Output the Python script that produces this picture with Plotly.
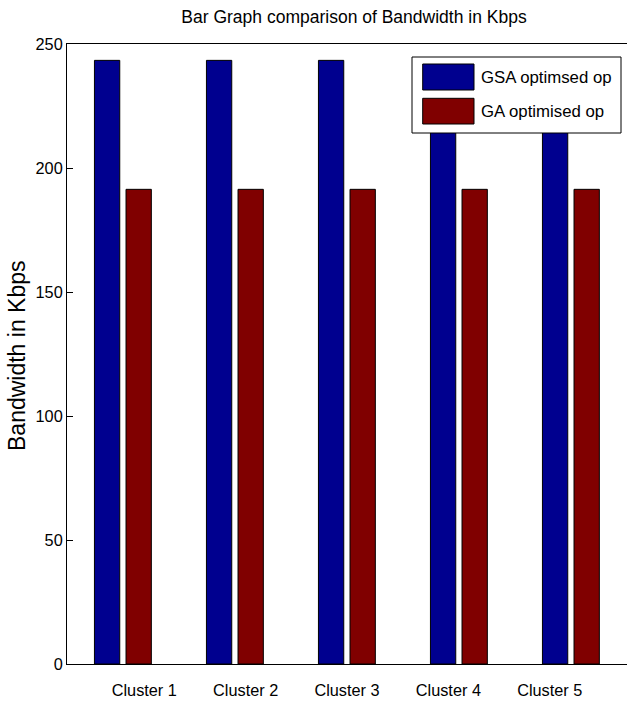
import plotly.graph_objects as go

categories = ["Cluster 1", "Cluster 2", "Cluster 3", "Cluster 4", "Cluster 5"]
gsa_values = [243.4, 243.4, 243.4, 243.4, 243.4]
ga_values = [191.4, 191.4, 191.4, 191.4, 191.4]
series_names = ["GSA optimsed op", "GA optimised op"]
y_ticks = [0, 50, 100, 150, 200, 250]

BLUE = "#00008F"
RED = "#800000"
FONT = "Liberation Sans, Arial, sans-serif"

xpos = list(range(len(categories)))

fig = go.Figure()
fig.add_trace(go.Bar(x=xpos, y=gsa_values, name=series_names[0],
                     marker=dict(color=BLUE, line=dict(color="black", width=1)),
                     width=0.226, offset=-0.255, showlegend=False))
fig.add_trace(go.Bar(x=xpos, y=ga_values, name=series_names[1],
                     marker=dict(color=RED, line=dict(color="black", width=1)),
                     width=0.226, offset=0.027, showlegend=False))

# label positions (MATLAB-like offset tick labels)
label_pos = [0.19, 1.095, 2.0, 2.905, 3.81]

fig.update_layout(
    width=627, height=704,
    margin=dict(l=67, r=0, t=44, b=40, autoexpand=False),
    paper_bgcolor="white", plot_bgcolor="white",
    barmode="overlay",
    title=dict(text="Bar Graph comparison of Bandwidth in Kbps",
               x=354/627, xanchor="center", yref="container",
               y=1 - 17/704, yanchor="middle",
               font=dict(family=FONT, size=17.5, color="black")),
    xaxis=dict(range=[-0.5, 4.5], showline=True, linecolor="black", linewidth=1,
               mirror=True, ticks="", showgrid=False, zeroline=False,
               automargin=False,
               tickvals=label_pos, ticktext=categories,
               ticklabelstandoff=11,
               tickfont=dict(family=FONT, size=16.3, color="black")),
    yaxis=dict(range=[0, 250], tickvals=y_ticks, showline=True, linecolor="black",
               linewidth=1, mirror=False, ticks="inside", ticklen=6,
               tickcolor="black", showgrid=False, zeroline=False,
               automargin=False,
               tickfont=dict(family=FONT, size=16.3, color="black")),
    yaxis2=dict(range=[0, 250], tickvals=y_ticks, overlaying="y", side="right",
                showline=False, ticks="inside", ticklen=6, tickcolor="black",
                showticklabels=False, showgrid=False, zeroline=False,
                automargin=False),
)

# y-axis title
fig.add_annotation(xref="paper", yref="paper", x=0, y=(664 - 356) / 620,
                   xshift=17 - 67, text="Bandwidth in Kbps", textangle=-90,
                   showarrow=False, xanchor="center", yanchor="middle",
                   font=dict(family=FONT, size=23, color="black"))

# custom legend (MATLAB style with large swatches)
x0, x1 = (412 - 67) / 560, (621 - 67) / 560
y0, y1 = (664 - 133) / 620, (664 - 57) / 620
fig.add_shape(type="rect", xref="paper", yref="paper", x0=x0, x1=x1, y0=y0, y1=y1,
              fillcolor="white", line=dict(color="black", width=1), layer="above")
sw_x0, sw_x1 = (422.7 - 67) / 560, (474 - 67) / 560
swatches = [((664 - 90) / 620, (664 - 64) / 620, BLUE),
            ((664 - 124) / 620, (664 - 98.3) / 620, RED)]
for (sy0, sy1, col), name in zip(swatches, series_names):
    fig.add_shape(type="rect", xref="paper", yref="paper", x0=sw_x0, x1=sw_x1,
                  y0=sy0, y1=sy1, fillcolor=col, line=dict(color="black", width=1),
                  layer="above")
    fig.add_annotation(xref="paper", yref="paper", x=(479 - 67) / 560,
                       y=(sy0 + sy1) / 2, text=name, showarrow=False,
                       xanchor="left", yanchor="middle",
                       font=dict(family=FONT, size=16.8, color="black"))

fig.write_html("out.html", config={"displayModeBar": False})

# remove default body margin so the figure sits at the page's top-left corner
with open("out.html", "r", encoding="utf-8") as f:
    html = f.read()
html = html.replace("<head>", "<head><style>html,body{margin:0;padding:0;overflow:hidden;}</style>", 1)
with open("out.html", "w", encoding="utf-8") as f:
    f.write(html)
